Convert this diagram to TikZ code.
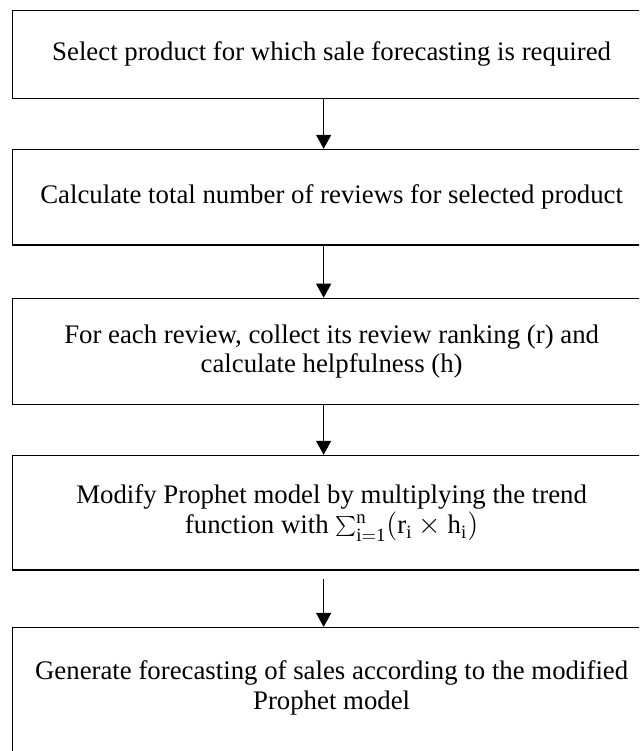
\documentclass[tikz,border=0pt]{standalone}
\usepackage{fontspec}
\setmainfont{Liberation Serif}
\usetikzlibrary{arrows.meta,positioning}
\newcommand{\boxWidth}{319.5pt}
\newcommand{\arrowShift}{-4pt}
\newcommand{\lineWidth}{0.65pt}
\tikzset{
  stepbox/.style={draw, line width=\lineWidth, minimum width=\boxWidth, text width=312pt,
    align=flush center, inner xsep=0pt, inner ysep=0pt, font=\fontsize{13.4}{14.6}\selectfont},
  flowArrow/.style={line width=\lineWidth, -{Triangle[width=7.5pt,length=7pt]}}
}
\begin{document}
\begin{tikzpicture}[x=0.5pt, y=-0.5pt]
\useasboundingbox (0,0) rectangle (639,751);
\clip (0,0) rectangle (639,751);

\node (select) [stepbox, anchor=north west, minimum height=44.1pt] at (11.5,9.5)
   {Select product for which sale forecasting is required};
\node (total) [stepbox, below=24.9pt of select, minimum height=47.8pt]
   {Calculate total number of reviews for selected product};
\node (ranking) [stepbox, below=26pt of total, minimum height=52.9pt]
   {For each review, collect its review ranking (r) and\\ calculate helpfulness (h)};
\node (modify) [stepbox, below=25pt of ranking, minimum height=57.2pt]
   {Modify Prophet model by multiplying the trend\\[0.8pt] function with $\sum_{\mathrm{i=1}}^{\mathrm{n}}(\mathrm{r}_{\mathrm{i}}\times\mathrm{h}_{\mathrm{i}})$};
%% last box runs past the bottom edge
\node (generate) [stepbox, below=28.2pt of modify, text height=26.2pt, text depth=60pt]
   {Generate forecasting of sales according to the modified\\ Prophet model};

\draw[flowArrow] ([xshift=\arrowShift]select.south) -- ([xshift=\arrowShift]total.north);
\draw[flowArrow] ([xshift=\arrowShift]total.south) -- ([xshift=\arrowShift]ranking.north);
\draw[flowArrow] ([xshift=\arrowShift]ranking.south) -- ([xshift=\arrowShift]modify.north);
\draw[flowArrow] ([xshift=\arrowShift, yshift=-4pt]modify.south) -- ([xshift=\arrowShift]generate.north);
\end{tikzpicture}
\end{document}
